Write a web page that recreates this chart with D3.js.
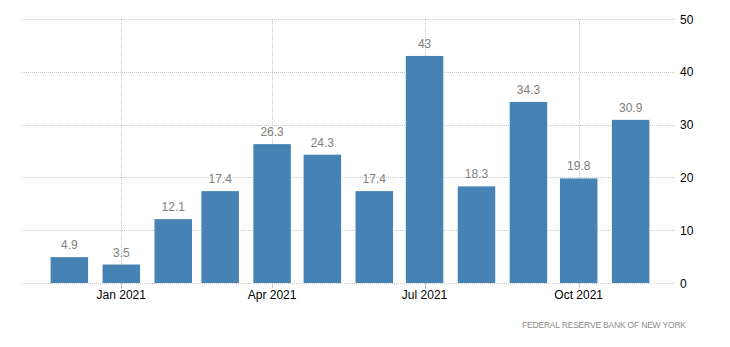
<!DOCTYPE html>
<html><head><meta charset="utf-8">
<script src="https://cdn.jsdelivr.net/npm/d3@7/dist/d3.min.js"></script>
<style>body{margin:0;background:#fff}svg{display:block;font-family:"Liberation Sans",Arial,sans-serif}</style>
</head><body><svg id="c" width="730" height="347"></svg>
<script>
const months = ["2020-12","2021-01","2021-02","2021-03","2021-04","2021-05","2021-06","2021-07","2021-08","2021-09","2021-10","2021-11"];
const values = [4.9,3.5,12.1,17.4,26.3,24.3,17.4,43,18.3,34.3,19.8,30.9];
const valueLabels = ["4.9","3.5","12.1","17.4","26.3","24.3","17.4","43","18.3","34.3","19.8","30.9"];
const xTicks = ["2021-01","2021-04","2021-07","2021-10"];
const yTicks = [0,10,20,30,40,50];
const source = "FEDERAL RESERVE BANK OF NEW YORK";

const parse = d3.utcParse("%Y-%m");
const svg = d3.select("#c");
const x = d3.scaleUtc().domain([parse("2021-01"), parse("2021-10")]).range([121.3, 578.7]);
const y = d3.scaleLinear().domain([0,50]).range([283,19]);
const left = 22, right = 675, barW = 37.5;

// horizontal grid
svg.append("g").selectAll("line").data(yTicks).join("line")
  .attr("x1",left).attr("x2",right).attr("y1",d=>Math.round(y(d))+0.5).attr("y2",d=>Math.round(y(d))+0.5)
  .attr("stroke","#c8c8c8").attr("stroke-dasharray","1,1");
// vertical grid
svg.append("g").selectAll("line").data(xTicks).join("line")
  .attr("x1",d=>Math.round(x(parse(d)))+0.5).attr("x2",d=>Math.round(x(parse(d)))+0.5)
  .attr("y1",y(50)).attr("y2",y(0))
  .attr("stroke","#c8c8c8").attr("stroke-dasharray","1,1");
// ticks
svg.append("g").selectAll("line").data(xTicks).join("line")
  .attr("x1",d=>Math.round(x(parse(d)))+0.5).attr("x2",d=>Math.round(x(parse(d)))+0.5)
  .attr("y1",y(0)).attr("y2",y(0)+5)
  .attr("stroke","#c8c8c8");

// bars
svg.append("g").selectAll("rect").data(values).join("rect")
  .attr("x",(d,i)=>x(parse(months[i]))-barW/2).attr("width",barW)
  .attr("y",d=>y(d)).attr("height",d=>y(0)-y(d))
  .attr("fill","#4682b4");

// value labels
svg.append("g").selectAll("text").data(values).join("text")
  .attr("x",(d,i)=>x(parse(months[i]))).attr("y",d=>y(d)-8)
  .attr("text-anchor","middle").attr("font-size",12).attr("fill","#808080")
  .text((d,i)=>valueLabels[i]);

// x labels
const fmt = d3.utcFormat("%b %Y");
svg.append("g").selectAll("text").data(xTicks).join("text")
  .attr("x",d=>x(parse(d))).attr("y",299)
  .attr("text-anchor","middle").attr("font-size",12).attr("fill","#000")
  .text(d=>fmt(parse(d)));

// y labels
svg.append("g").selectAll("text").data(yTicks).join("text")
  .attr("x",680).attr("y",d=>y(d)+4.5)
  .attr("font-size",12).attr("fill","#000")
  .text(d=>d);

// source
svg.append("text").attr("x",686).attr("y",328).attr("text-anchor","end")
  .attr("font-size",8.5).attr("fill","#8a8a8a").attr("textLength",164).attr("lengthAdjust","spacing")
  .text(source);
</script></body></html>
